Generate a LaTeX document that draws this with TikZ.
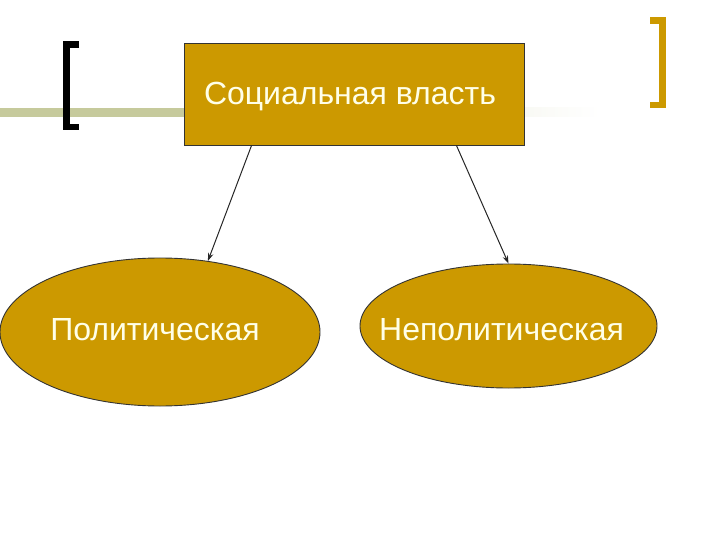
\documentclass[tikz,border=0pt]{standalone}
\usepackage{fontspec}
\setmainfont{Liberation Sans}
\usetikzlibrary{shapes.geometric,arrows.meta,calc}
\definecolor{gold}{RGB}{204,153,0}
\definecolor{olive}{RGB}{198,202,156}
\definecolor{cream}{RGB}{255,255,232}
\begin{document}
\begin{tikzpicture}[x=1bp,y=-1bp,
  goldbox/.style={draw=black!80, line width=0.9bp, fill=gold, inner sep=0pt},
  label/.style={text=cream, font=\fontsize{32bp}{38bp}\selectfont, inner sep=0pt},
  conn/.style={draw=black!85, line width=1bp, -{Stealth[length=8bp,width=5.5bp]}},
  bracket/.style={line width=6.5bp, line join=miter, line cap=butt}]
\useasboundingbox (0,0) rectangle (720,540);
% decorative line
\fill[olive] (0,108) rectangle (184,117);
\shade[left color=olive!60, right color=white] (184,108) rectangle (600,117);
% brackets
\draw[bracket, black] (79,44.5) -- (66.4,44.5) -- (66.4,127) -- (79,127);
\draw[bracket, gold] (650,20.7) -- (662.5,20.7) -- (662.5,105) -- (650,105);
% nodes
\node[goldbox, rectangle, minimum width=340bp, minimum height=102bp] (box) at (354,94) {};
\node[label] (boxtxt) at (350,97) {Социальная власть};
\node[goldbox, ellipse, minimum width=320bp, minimum height=148bp] (pol) at (160,332) {};
\node[label] (poltxt) at (155,330) {Политическая};
\node[goldbox, ellipse, minimum width=297bp, minimum height=124bp] (npol) at (508.5,326) {};
\node[label] (npoltxt) at (501.5,330) {Неполитическая};
% connectors
\draw[conn] ([xshift=68bp]box.south west) -- (pol.56);
\draw[conn] ([xshift=-68bp]box.south east) -- (npol.north);
\end{tikzpicture}
\end{document}
